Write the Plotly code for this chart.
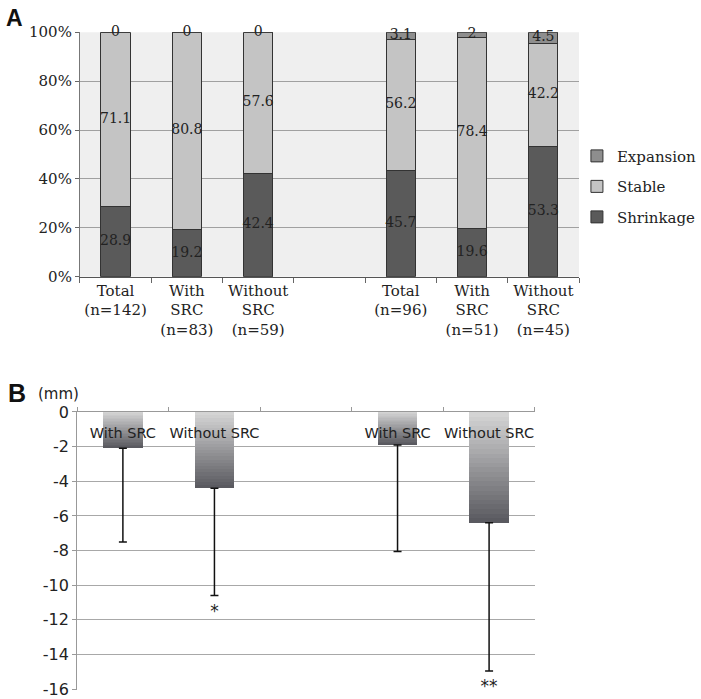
import plotly.graph_objects as go

# ---------------- Panel A data ----------------
cats_a = ["Total<br>(n=142)", "With<br>SRC<br>(n=83)", "Without<br>SRC<br>(n=59)", " ",
          "Total<br>(n=96)", "With<br>SRC<br>(n=51)", "Without<br>SRC<br>(n=45)"]
shrinkage = [28.9, 19.2, 42.4, None, 45.7, 19.6, 53.3]
stable = [71.1, 80.8, 57.6, None, 56.2, 78.4, 42.2]
expansion = [0, 0, 0, None, 3.1, 2, 4.5]
pct_ticks = [0, 20, 40, 60, 80, 100]
pct_labels = ["0%", "20%", "40%", "60%", "80%", "100%"]

# ---------------- Panel B data ----------------
groups_b = ["With SRC", "Without SRC", "", "With SRC", "Without SRC"]
change_mean = [-2.1, -4.4, None, -1.9, -6.4]
change_sd = [5.4, 6.2, None, 6.15, 8.55]
sig_label = ["", "*", "", "", "**"]
sig_y = [None, -11.6, None, None, -15.9]
mm_ticks = [0, -2, -4, -6, -8, -10, -12, -14, -16]
mm_labels = ["0", "-2", "-4", "-6", "-8", "-10", "-12", "-14", "-16"]

SERIF = "DejaVu Serif"
SANS = "DejaVu Sans"

fig = go.Figure()

# 100% stacked: normalise each column to its total (as the original chart does)
totals = [None if a is None else a + b + c for a, b, c in zip(shrinkage, stable, expansion)]


def norm(vals):
    return [None if v is None else v / t * 100 for v, t in zip(vals, totals)]


series = [("Shrinkage", shrinkage, "#5a5a5a", 3),
          ("Stable", stable, "#c4c4c4", 2),
          ("Expansion", expansion, "#8e8e8e", 1)]
for name, vals, col, rank in series:
    fig.add_trace(go.Bar(
        x=cats_a, y=norm(vals), name=name, legendgroup=name, legendrank=rank, width=0.41,
        marker=dict(color=col, line=dict(color="#333333", width=1)),
        xaxis="x", yaxis="y"))

# data labels at segment centres
base = [0 if v is not None else None for v in shrinkage]
for name, vals, col, rank in series:
    nv = norm(vals)
    ys, txt, xs = [], [], []
    for i, v in enumerate(vals):
        if v is None:
            continue
        xs.append(cats_a[i])
        ys.append(base[i] + nv[i] / 2)
        txt.append(f"{v:g}")
        base[i] += nv[i]
    fig.add_trace(go.Scatter(
        x=xs, y=ys, text=txt, mode="text", showlegend=False, cliponaxis=False,
        textfont=dict(family=SERIF, size=14, color="#222222"),
        xaxis="x", yaxis="y", hoverinfo="skip"))

# ---------------- Panel B: gradient bars via stacked slices ----------------
xb = list(range(len(groups_b)))
N = 24
top_rgb = (212, 212, 212)
bot_rgb = (90, 90, 96)
for k in range(N):
    t = k / (N - 1)
    c = tuple(int(round(top_rgb[j] + (bot_rgb[j] - top_rgb[j]) * t)) for j in range(3))
    fig.add_trace(go.Bar(
        x=xb, y=[(m / N) if m is not None else None for m in change_mean],
        width=0.43, showlegend=False,
        marker=dict(color=f"rgb{c}", line=dict(width=0)),
        xaxis="x2", yaxis="y2", hoverinfo="skip"))

fig.add_trace(go.Scatter(
    x=xb, y=change_mean, mode="markers", showlegend=False,
    marker=dict(size=1, opacity=0),
    error_y=dict(type="data", symmetric=False,
                 array=[0 if s is not None else None for s in change_sd],
                 arrayminus=change_sd, color="#111111", thickness=1.5, width=4),
    xaxis="x2", yaxis="y2", hoverinfo="skip"))

fig.add_trace(go.Scatter(
    x=xb, y=[-1.3] * len(xb), text=groups_b, mode="text", showlegend=False,
    cliponaxis=False,
    textfont=dict(family=SANS, size=14.5, color="#222222"),
    xaxis="x2", yaxis="y2", hoverinfo="skip"))

fig.add_trace(go.Scatter(
    x=xb, y=sig_y, text=sig_label, mode="text", showlegend=False, cliponaxis=False,
    textfont=dict(family=SANS, size=17, color="#222222"),
    xaxis="x2", yaxis="y2", hoverinfo="skip"))

fig.update_layout(
    width=701, height=699,
    margin=dict(l=0, r=0, t=0, b=0, autoexpand=False),
    paper_bgcolor="white", plot_bgcolor="rgba(0,0,0,0)",
    barmode="stack",
    showlegend=True,
    legend=dict(x=0.823, y=0.733, xanchor="left", yanchor="middle",
                traceorder="grouped", tracegroupgap=8,
                font=dict(family=SERIF, size=15, color="#222222"),
                bgcolor="rgba(0,0,0,0)"),
    xaxis=dict(domain=[0.114, 0.826], anchor="y", type="category",
               tickson="boundaries", ticks="outside", ticklen=5, tickangle=0,
               tickcolor="#666666", showline=True, linecolor="#555555",
               showgrid=False,
               tickfont=dict(family=SERIF, size=15, color="#222222")),
    yaxis=dict(domain=[0.604, 0.954], anchor="x", range=[0, 100],
               tickvals=pct_ticks, ticktext=pct_labels, ticks="outside", ticklen=4,
               tickcolor="#666666", showline=True, linecolor="#777777",
               gridcolor="#a0a0a0", gridwidth=1, zeroline=False,
               tickfont=dict(family=SERIF, size=15, color="#222222")),
    xaxis2=dict(domain=[0.110, 0.763], anchor="y2", range=[-0.5, 4.5],
                side="top", tickvals=[-0.5, 0.5, 1.5, 2.5, 3.5, 4.5],
                showticklabels=False, ticks="outside", ticklen=4,
                tickcolor="#999999", showline=True, linecolor="#999999",
                showgrid=False, zeroline=False),
    yaxis2=dict(domain=[0.0129, 0.4106], anchor="x2", range=[-16.05, 0],
                tickvals=mm_ticks, ticktext=mm_labels, ticks="outside", ticklen=4,
                tickcolor="#999999", showline=True, linecolor="#999999",
                gridcolor="#a8a8a8", gridwidth=1, zeroline=False,
                tickfont=dict(family=SANS, size=16, color="#222222")),
    shapes=[dict(type="rect", xref="x domain", yref="y domain",
                 x0=0, x1=1, y0=0, y1=1, fillcolor="#efefef",
                 line=dict(width=0), layer="below")],
    annotations=[
        dict(text="<b>A</b>", x=0.005, y=0.995, xref="paper", yref="paper",
             xanchor="left", yanchor="top", showarrow=False,
             font=dict(family="Liberation Sans", size=23, color="#111111")),
        dict(text="<b>B</b>", x=0.008, y=1 - 393 / 699, xref="paper", yref="paper",
             xanchor="left", yanchor="middle", showarrow=False,
             font=dict(family="Liberation Sans", size=25, color="#111111")),
        dict(text="(mm)", x=0.052, y=1 - 394 / 699, xref="paper", yref="paper",
             xanchor="left", yanchor="middle", showarrow=False,
             font=dict(family=SANS, size=15, color="#222222")),
    ],
)

fig.write_html("out.html")
